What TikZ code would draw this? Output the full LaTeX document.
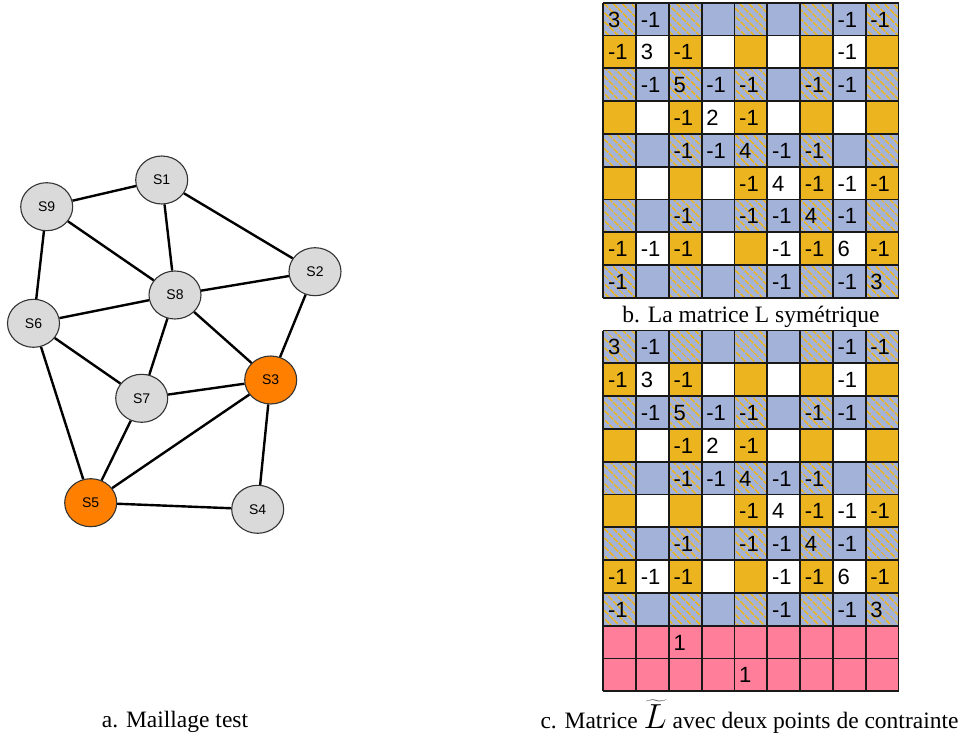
\documentclass[tikz,border=0pt]{standalone}
\usepackage{fontspec}
\setmainfont{Liberation Serif}
\newfontfamily\cellfont{Liberation Sans}
\usetikzlibrary{patterns.meta,shapes.geometric}
\definecolor{cblue}{HTML}{A3B2D9}
\definecolor{cyel}{HTML}{ECB520}
\definecolor{cpink}{HTML}{FF7F9B}
\definecolor{ngray}{HTML}{DADADA}
\definecolor{norange}{HTML}{FF8000}
\tikzset{
 vert/.style={ellipse, draw=black!80, line width=1.1pt, fill=ngray, minimum width=52pt, minimum height=48pt, inner sep=0pt, font=\cellfont\fontsize{14}{14}\selectfont},
 hot/.style={vert, fill=norange},
 edge/.style={line width=2.4pt, black},
 num/.style={anchor=base west, inner sep=0pt, font=\cellfont\fontsize{22}{22}\selectfont},
 gline/.style={line width=1.8pt, black!90},
 hatch/.style={pattern={Lines[angle=-45,distance=6.4pt,line width=1.9pt]}, pattern color=cyel},
 capt/.style={anchor=base, inner sep=0pt, font=\fontsize{23.5}{24}\selectfont}
}
\newcommand\cw{32.8}
\newcommand\xo{603.3}
% #1 row, #2 col, #3 top of matrix
\newcommand\mcell[3]{%
 \pgfmathsetmacro\cx{\xo+(#2-1)*\cw}%
 \pgfmathsetmacro\cy{#3+(#1-1)*\cw}%
 \ifnum#1>9\relax
   \fill[cpink] (\cx,\cy) rectangle ++(\cw,\cw);
 \else
 \ifodd#1\relax
   \fill[cblue] (\cx,\cy) rectangle ++(\cw,\cw);
   \ifodd#2\relax \fill[hatch] (\cx,\cy) rectangle ++(\cw,\cw);\fi
 \else
   \ifodd#2\relax \fill[cyel] (\cx,\cy) rectangle ++(\cw,\cw);
   \else \fill[white] (\cx,\cy) rectangle ++(\cw,\cw);\fi
 \fi
 \fi}
\newcommand\entries{1/1/3,1/2/-1,1/8/-1,1/9/-1,2/1/-1,2/2/3,2/3/-1,2/8/-1,3/2/-1,3/3/5,3/4/-1,3/5/-1,3/7/-1,3/8/-1,4/3/-1,4/4/2,4/5/-1,5/3/-1,5/4/-1,5/5/4,5/6/-1,5/7/-1,6/5/-1,6/6/4,6/7/-1,6/8/-1,6/9/-1,7/3/-1,7/5/-1,7/6/-1,7/7/4,7/8/-1,8/1/-1,8/2/-1,8/3/-1,8/6/-1,8/7/-1,8/8/6,8/9/-1,9/1/-1,9/6/-1,9/8/-1,9/9/3}
\begin{document}
\begin{tikzpicture}[x=1pt,y=-1pt]
\useasboundingbox (0,0) rectangle (967,738);
% ---------- graph ----------
\node[vert] (s1) at (161.7,180) {S1};
\node[vert] (s9) at (46.7,206.7) {S9};
\node[vert] (s2) at (315,271.7) {S2};
\node[vert] (s8) at (175,295) {S8};
\node[vert] (s6) at (33.5,323.3) {S6};
\node[vert] (s7) at (141.7,398.3) {S7};
\node[hot] (s3) at (270.7,380) {S3};
\node[hot] (s5) at (90.7,502.7) {S5};
\node[vert] (s4) at (257.7,509.3) {S4};
\foreach \a/\b in {s1/s9,s1/s2,s1/s8,s9/s8,s9/s6,s2/s8,s2/s3,s8/s6,s8/s7,s8/s3,s6/s7,s6/s5,s7/s3,s7/s5,s3/s5,s3/s4,s5/s4}
  \draw[edge] (\a) -- (\b);
\node[capt] (capa) at (175,727) {a. Maillage test};
% ---------- matrix b ----------
\def\tb{2.7}
\foreach \r in {1,...,9} \foreach \c in {1,...,9} {\mcell{\r}{\c}{\tb}}
\foreach \r/\c/\v in \entries
  \node[num] (b\r-\c) at ({\xo+(\c-1)*\cw+4.5},{\tb+(\r-1)*\cw+24.4}) {\v};
\foreach \i in {0,...,9} {
  \draw[gline] ({\xo+\i*\cw},\tb) -- ++(0,{9*\cw});
  \draw[gline] (\xo,{\tb+\i*\cw}) -- ++({9*\cw},0);
}
\node[capt] (capb) at (751,322.5) {b. La matrice L symétrique};
% ---------- matrix c ----------
\def\tc{330.5}
\foreach \r in {1,...,11} \foreach \c in {1,...,9} {\mcell{\r}{\c}{\tc}}
\foreach \r/\c/\v in \entries
  \node[num] (c\r-\c) at ({\xo+(\c-1)*\cw+4.5},{\tc+(\r-1)*\cw+24.4}) {\v};
\foreach \r/\c/\v in {10/3/1,11/5/1}
  \node[num] (c\r-\c) at ({\xo+(\c-1)*\cw+4.5},{\tc+(\r-1)*\cw+24.4}) {\v};
\foreach \i in {0,...,9}
  \draw[gline] ({\xo+\i*\cw},\tc) -- ++(0,{11*\cw});
\foreach \i in {0,...,11}
  \draw[gline] (\xo,{\tc+\i*\cw}) -- ++({9*\cw},0);
\node[capt] (capc) at (749.5,728) {c. Matrice \scalebox{1.4}{$\widetilde{L}$} avec deux points de contrainte};
\end{tikzpicture}
\end{document}
